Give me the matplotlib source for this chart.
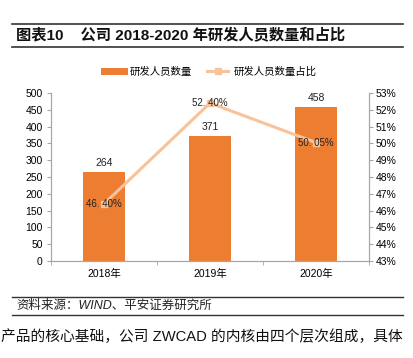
import matplotlib
matplotlib.use("Agg")
import matplotlib.pyplot as plt
from matplotlib.lines import Line2D

categories = ["2018年", "2019年", "2020年"]
staff = [264, 371, 458]
ratio = [46.40, 52.40, 50.05]
ratio_labels = ["46. 40%", "52. 40%", "50. 05%"]
left_ticks = [0, 50, 100, 150, 200, 250, 300, 350, 400, 450, 500]
right_ticks = [43, 44, 45, 46, 47, 48, 49, 50, 51, 52, 53]

FONT = ["Liberation Sans", "Noto Sans CJK SC", "DejaVu Sans"]
plt.rcParams["font.family"] = FONT

BAR = "#ED7D31"
LINE = "#F8C39A"
GREY = "#A6A6A6"

fig = plt.figure(figsize=(4.13, 3.58), dpi=100)
ax = fig.add_axes([51/413, 1-261/358, (369-51)/413, (261-93)/358])
ax2 = ax.twinx()

x = list(range(len(categories)))
ax.bar(x, staff, width=0.4, color=BAR, zorder=2)
for xi, v in zip(x, staff):
    ax.text(xi, v + 12, str(v), ha="center", va="bottom", fontsize=7.5, color="#222222")

ax.set_xlim(-0.5, 2.5)
ax.set_ylim(0, 500)
ax.set_yticks(left_ticks)
ax.set_xticks(x)
ax.set_xticklabels(categories)
ax.set_xticks([-0.5, 0.5, 1.5, 2.5], minor=True)
ax.tick_params(axis="x", which="major", length=0, labelsize=7.5, pad=6)
ax.tick_params(axis="x", which="minor", length=3, color=GREY)
ax.tick_params(axis="y", labelsize=7.5, length=3, color=GREY, pad=3)

ax2.plot(x, ratio, color=LINE, lw=2.2, marker="s", markersize=5, zorder=3)
ax2.set_ylim(43, 53)
ax2.set_yticks(right_ticks)
ax2.set_yticklabels([f"{t}%" for t in right_ticks])
ax2.tick_params(axis="y", labelsize=7.5, length=3, color=GREY, pad=2)
for xi, v, lab in zip(x, ratio, ratio_labels):
    ax2.text(xi, v, lab, ha="center", va="center", fontsize=7, color="#222222", zorder=4)

for a in (ax, ax2):
    a.spines["top"].set_visible(False)
    for s in ("left", "right", "bottom"):
        a.spines[s].set_color(GREY)
        a.spines[s].set_linewidth(0.8)

# legend
handles = [
    Line2D([0], [0], color=BAR, lw=5),
    Line2D([0], [0], color=LINE, lw=2.2, marker="s", markersize=5),
]
fig.legend(handles, ["研发人员数量", "研发人员数量占比"], loc="center",
           bbox_to_anchor=(210/413, 1-72/358), ncol=2, frameon=False,
           fontsize=7.5, handlelength=2.0, columnspacing=1.5, handletextpad=0.5)

# title block
fig.add_artist(Line2D([12/413, 403/413], [1-24/358, 1-24/358], color="#333333", lw=1.2))
fig.add_artist(Line2D([12/413, 403/413], [1-47/358, 1-47/358], color="#333333", lw=1.2))
fig.text(16/413, 1-36/358, "图表10    公司 2018-2020 年研发人员数量和占比", fontsize=11,
         fontweight="bold", va="center", ha="left", color="#111111")

# source block
fig.add_artist(Line2D([12/413, 403/413], [1-297/358, 1-297/358], color="#333333", lw=1.0))
fig.add_artist(Line2D([12/413, 403/413], [1-315/358, 1-315/358], color="#333333", lw=1.0))
fig.text(16/413, 1-306/358, "资料来源：WIND、平安证券研究所", fontsize=9, style="italic",
         va="center", ha="left", color="#222222")
fig.text(1/413, 1-337/358, "产品的核心基础，公司 ZWCAD 的内核由四个层次组成，具体", fontsize=10.6,
         va="center", ha="left", color="#111111")

fig.savefig("out.png", dpi=100)
